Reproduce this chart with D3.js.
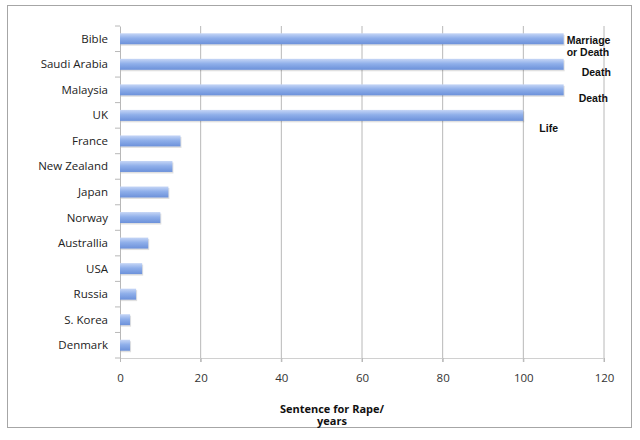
<!DOCTYPE html>
<html>
<head>
<meta charset="utf-8">
<script src="https://cdn.jsdelivr.net/npm/d3@7"></script>
<style>
  html, body { margin: 0; padding: 0; background: #fff; overflow: hidden; }
  svg { display: block; }
</style>
</head>
<body>
<div id="chart"></div>
<script>
// 数据
const countries = ['Bible', 'Saudi Arabia', 'Malaysia', 'UK', 'France', 'New Zealand', 'Japan',
  'Norway', 'Australlia', 'USA', 'Russia', 'S. Korea', 'Denmark'];
const years = [110, 110, 110, 100, 15, 13, 12, 10, 7, 5.5, 4, 2.5, 2.5];
const notes = [['Marriage', 'or Death'], ['Death'], ['Death'], ['Life']];
const xTicks = [0, 20, 40, 60, 80, 100, 120];
const xTitle = ['Sentence for Rape/', 'years'];

const width = 640, height = 440;
const margin = { top: 26, right: 36, bottom: 82, left: 120 };
const innerWidth = width - margin.left - margin.right;
const innerHeight = height - margin.top - margin.bottom;

const svg = d3.select('#chart').append('svg')
  .attr('width', width)
  .attr('height', height);

// 外框
svg.append('rect')
  .attr('x', 7.5).attr('y', 5.5)
  .attr('width', 624).attr('height', 422)
  .attr('fill', '#fff')
  .attr('stroke', '#a6a6a6');

// 渐变
const defs = svg.append('defs');
const grad = defs.append('linearGradient')
  .attr('id', 'barGrad')
  .attr('x1', 0).attr('y1', 0).attr('x2', 0).attr('y2', 1);
grad.append('stop').attr('offset', '0%').attr('stop-color', '#c6d6f6');
grad.append('stop').attr('offset', '45%').attr('stop-color', '#8fafea');
grad.append('stop').attr('offset', '100%').attr('stop-color', '#6c91da');

const g = svg.append('g')
  .attr('transform', `translate(${margin.left},${margin.top})`);

const x = d3.scaleLinear().domain([0, 120]).range([0, innerWidth]);
const y = d3.scaleBand().domain(countries).range([0, innerHeight]).paddingInner(0.57).paddingOuter(0.285);

// 网格线
g.append('g')
  .selectAll('line')
  .data(xTicks.slice(1))
  .join('line')
  .attr('x1', d => x(d)).attr('x2', d => x(d))
  .attr('y1', 0).attr('y2', innerHeight + 4)
  .attr('stroke', '#b8b8b8');

// x 轴
const xAxis = g.append('g')
  .attr('transform', `translate(0,${innerHeight})`)
  .call(d3.axisBottom(x).tickValues(xTicks).tickSize(4));
xAxis.select('.domain').attr('stroke', '#d0d0d0');
xAxis.selectAll('.tick line').attr('stroke', '#b8b8b8');
xAxis.selectAll('text')
  .attr('y', 24)
  .attr('dy', null)
  .attr('font-family', 'Open Sans, sans-serif')
  .attr('font-size', 11.5)
  .attr('fill', '#333');

// y 轴
const step = y.step();
const yAxis = g.append('g')
  .call(d3.axisLeft(y).tickSize(0));
yAxis.select('.domain').attr('stroke', '#b8b8b8');
yAxis.selectAll('text')
  .attr('x', -12)
  .attr('dy', 4)
  .attr('font-family', 'Open Sans, sans-serif')
  .attr('font-size', 11.5)
  .attr('fill', '#222');
g.append('g')
  .selectAll('line')
  .data(d3.range(countries.length + 1))
  .join('line')
  .attr('x1', -5).attr('x2', 0)
  .attr('y1', i => i * step).attr('y2', i => i * step)
  .attr('stroke', '#b8b8b8');

// 柱子阴影
g.append('g')
  .selectAll('rect')
  .data(countries)
  .join('rect')
  .attr('x', 1)
  .attr('y', d => y(d) + 1.5)
  .attr('width', (d, i) => x(years[i]))
  .attr('height', y.bandwidth())
  .attr('fill', '#000')
  .attr('opacity', 0.12);

// 柱子
g.append('g')
  .selectAll('rect')
  .data(countries)
  .join('rect')
  .attr('x', 0)
  .attr('y', d => y(d))
  .attr('width', (d, i) => x(years[i]))
  .attr('height', y.bandwidth())
  .attr('fill', 'url(#barGrad)');

// 注释
const noteOffset = [[3, 5], [18, 12], [15, 12], [16, 17]];
notes.forEach((lines, i) => {
  const nx = x(years[i]) + noteOffset[i][0];
  const ny = y(countries[i]) + y.bandwidth() / 2 + noteOffset[i][1];
  lines.forEach((l, j) => {
    g.append('text')
      .attr('x', nx)
      .attr('y', ny + j * 12)
      .attr('font-family', 'Liberation Sans Narrow, Arial Narrow, sans-serif')
      .attr('font-weight', 'bold')
      .attr('font-size', 10.5)
      .attr('fill', '#111')
      .text(l);
  });
});

// x 轴标题
xTitle.forEach((l, j) => {
  svg.append('text')
    .attr('x', 332)
    .attr('y', 413 + j * 12)
    .attr('text-anchor', 'middle')
    .attr('font-family', 'Open Sans, sans-serif')
    .attr('font-weight', 'bold')
    .attr('font-size', 11)
    .attr('fill', '#111')
    .text(l);
});
</script>
</body>
</html>
